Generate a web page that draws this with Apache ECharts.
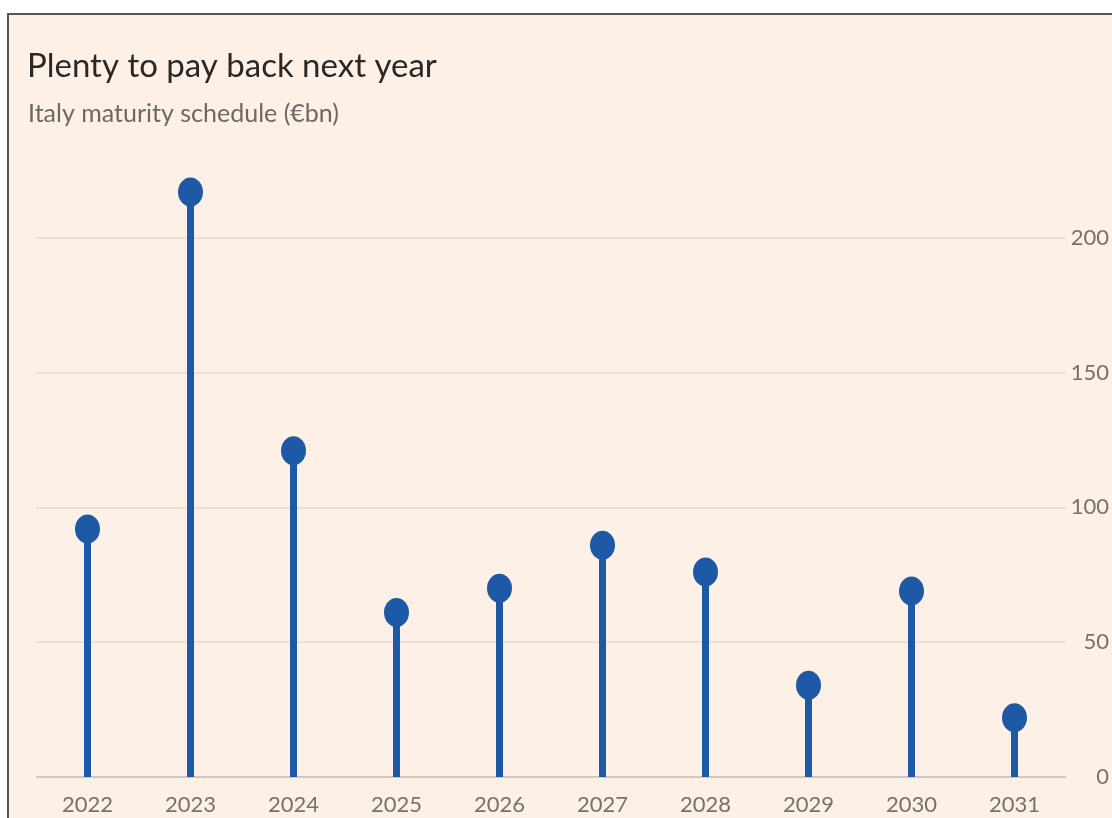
<!DOCTYPE html>
<html>
<head>
<meta charset="utf-8">
<script src="https://cdn.jsdelivr.net/npm/echarts@6/dist/echarts.min.js"></script>
<style>
  html, body { margin: 0; padding: 0; background: #ffffff; }
  #wrap { position: relative; width: 1112px; height: 818px; overflow: hidden; }
  #chart { position: absolute; left: 0; top: 0; width: 1112px; height: 818px; }
  .mask-top { position: absolute; left: 0; top: 0; width: 1112px; height: 13px; background: #ffffff; }
  .mask-left { position: absolute; left: 0; top: 0; width: 7px; height: 818px; background: #ffffff; }
  .edge-top { position: absolute; left: 7px; top: 13px; width: 1105px; height: 2px; background: #5a5552; }
  .edge-left { position: absolute; left: 7px; top: 13px; width: 2px; height: 805px; background: #5a5552; }
</style>
</head>
<body>
<div id="wrap">
  <div id="chart"></div>
  <div class="mask-top"></div>
  <div class="mask-left"></div>
  <div class="edge-top"></div>
  <div class="edge-left"></div>
</div>
<script>
// Italian government debt maturing each year, € billions
const years = ['2022', '2023', '2024', '2025', '2026', '2027', '2028', '2029', '2030', '2031'];
const maturities = [92, 217, 121, 61, 70, 86, 76, 34, 69, 22];
const yTicks = [0, 50, 100, 150, 200];

const titleText = 'Plenty to pay back next year';
const subtitleText = 'Italy maturity schedule (€bn)';

const FONT = 'Lato, "Open Sans", sans-serif';
const BLUE = '#1d59a5';

const chart = echarts.init(document.getElementById('chart'), null, { renderer: 'canvas' });

chart.setOption({
  backgroundColor: '#fdf0e6',
  animation: false,
  title: [
    {
      text: titleText,
      left: 22,
      top: 45,
      textStyle: { fontFamily: FONT, fontSize: 33, fontWeight: 'normal', color: '#2b2725' }
    },
    {
      text: subtitleText,
      left: 23,
      top: 96,
      textStyle: { fontFamily: FONT, fontSize: 25, fontWeight: 'normal', color: '#6e6863' }
    }
  ],
  grid: { left: 36, right: 44, top: 103, bottom: 41, containLabel: false },
  xAxis: {
    type: 'category',
    data: years,
    boundaryGap: true,
    axisLine: { show: false },
    axisTick: { show: false },
    axisLabel: {
      margin: 17,
      fontFamily: FONT,
      fontSize: 22,
      color: '#77716c'
    }
  },
  yAxis: {
    type: 'value',
    position: 'right',
    min: 0,
    max: 250,
    interval: 50,
    axisLine: { show: false },
    axisTick: { show: false },
    splitLine: {
      show: true,
      showMaxLine: false,
      lineStyle: {
        color: ['#d3c8bf', '#ebe0d7', '#ebe0d7', '#ebe0d7', '#ebe0d7', '#ebe0d7'],
        width: 2
      }
    },
    axisLabel: {
      showMaxLabel: false,
      align: 'right',
      margin: 43,
      fontFamily: FONT,
      fontSize: 22,
      color: '#77716c',
      formatter: function (v) { return yTicks.indexOf(v) >= 0 ? String(v) : ''; }
    }
  },
  series: [
    {
      // stems
      type: 'bar',
      data: maturities,
      barWidth: 7,
      itemStyle: { color: BLUE },
      silent: true
    },
    {
      // heads
      type: 'scatter',
      data: maturities,
      symbol: 'circle',
      symbolSize: [25, 29],
      itemStyle: { color: BLUE, opacity: 1 },
      z: 3,
      silent: true
    }
  ]
});
</script>
</body>
</html>
